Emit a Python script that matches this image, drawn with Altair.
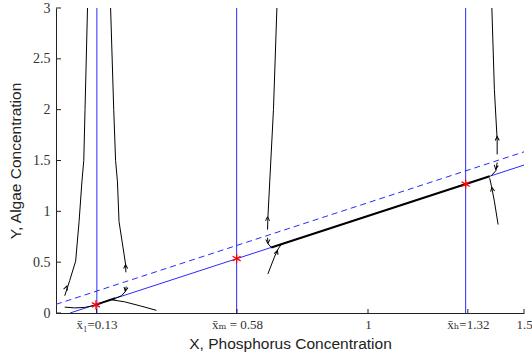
import altair as alt
import pandas as pd

# ---------------- data ----------------
x_ticks = [0.13, 0.58, 1.0, 1.32, 1.5]
x_tick_labels = ["x̄₁=0.13", "x̄ₘ = 0.58", "1", "x̄ₕ=1.32", "1.5"]
y_ticks = [0, 0.5, 1, 1.5, 2, 2.5, 3]

eq_lines_x = [0.131, 0.579, 1.313]          # vertical blue lines
star_x = [0.128, 0.579, 1.313]              # equilibria (red stars)
star_y = [0.08, 0.535, 1.267]

solid_x = [0.045, 1.5]                      # solid blue line
solid_y = [0.0, 1.455]
dashed_x = [0.0, 1.5]                       # dashed blue line
dashed_y = [0.085, 1.585]

# black trajectories
traj_a_x = [0.101, 0.093, 0.089, 0.083, 0.074, 0.063, 0.044, 0.028]
traj_a_y = [3.0, 2.0, 1.5, 1.29, 0.90, 0.51, 0.32, 0.17]
traj_b_x = [0.175, 0.185, 0.191, 0.197, 0.202, 0.215, 0.223, 0.224]
traj_b_y = [3.0, 2.0, 1.5, 1.29, 0.90, 0.64, 0.48, 0.40]
traj_b_low_x = [0.225, 0.222, 0.21, 0.19]
traj_b_low_y = [0.26, 0.21, 0.17, 0.145]
traj_c_x = [0.028, 0.06, 0.092, 0.124]
traj_c_y = [0.058, 0.05, 0.055, 0.075]
traj_d_x = [0.178, 0.22, 0.27, 0.322]
traj_d_y = [0.13, 0.11, 0.07, 0.026]
traj_m_up_x = [0.708, 0.697, 0.685, 0.679, 0.678]
traj_m_up_y = [3.0, 2.0, 1.29, 0.93, 0.82]
traj_m_dn_x = [0.678, 0.68, 0.69]
traj_m_dn_y = [0.74, 0.68, 0.645]
traj_m_low_x = [0.679, 0.70, 0.712, 0.722]
traj_m_low_y = [0.384, 0.55, 0.63, 0.675]
traj_h_up_x = [1.397, 1.405, 1.414, 1.414]
traj_h_up_y = [3.0, 2.2, 1.7, 1.56]
traj_h_dn_x = [1.414, 1.41, 1.395]
traj_h_dn_y = [1.48, 1.40, 1.35]
traj_h_low_x = [1.417, 1.405, 1.396, 1.39]
traj_h_low_y = [0.87, 1.1, 1.245, 1.325]

# thick black pieces (slow manifold)
thick_1_x = [0.124, 0.15, 0.19]
thick_1_y = [0.075, 0.105, 0.145]
thick_2_x = [0.69, 1.39]
thick_2_y = [0.645, 1.345]

# arrow heads: position and direction (degrees, 0 = up)
arrow_x = [0.033, 0.223, 0.223, 0.678, 0.679, 0.708, 1.414, 1.410, 1.398]
arrow_y = [0.25, 0.46, 0.23, 0.93, 0.70, 0.60, 1.72, 1.43, 1.22]
arrow_dir = [20, 358, 190, 0, 180, 20, 358, 190, 350]

# ---------------- build tables ----------------
def seg_df(pieces):
    rows = []
    for name, xs, ys in pieces:
        for i, (a, b) in enumerate(zip(xs, ys)):
            rows.append({"seg": name, "i": i, "x": a, "y": b})
    return pd.DataFrame(rows)

thin_df = seg_df([
    ("a", traj_a_x, traj_a_y), ("b", traj_b_x, traj_b_y),
    ("bl", traj_b_low_x, traj_b_low_y), ("c", traj_c_x, traj_c_y),
    ("d", traj_d_x, traj_d_y), ("mu", traj_m_up_x, traj_m_up_y),
    ("md", traj_m_dn_x, traj_m_dn_y), ("ml", traj_m_low_x, traj_m_low_y),
    ("hu", traj_h_up_x, traj_h_up_y), ("hd", traj_h_dn_x, traj_h_dn_y),
    ("hl", traj_h_low_x, traj_h_low_y),
])
thick_df = seg_df([("t1", thick_1_x, thick_1_y), ("t2", thick_2_x, thick_2_y)])
solid_df = pd.DataFrame({"x": solid_x, "y": solid_y})
dashed_df = pd.DataFrame({"x": dashed_x, "y": dashed_y})
vline_df = pd.DataFrame({"x": eq_lines_x})
star_df = pd.DataFrame({"x": star_x, "y": star_y})
arrow_df = pd.DataFrame({"x": arrow_x, "y": arrow_y, "dir": arrow_dir})
xt_df = pd.DataFrame({"v": x_ticks})
yt_df = pd.DataFrame({"v": y_ticks})

W, H = 468, 305
LABEL_FONT = "Liberation Serif, DejaVu Serif, serif"
TITLE_FONT = "Liberation Sans, Arial, sans-serif"

label_expr = " : ".join(
    f"abs(datum.value - {v}) < 1e-6 ? '{t}'" for v, t in zip(x_ticks, x_tick_labels)
) + " : datum.label"

xscale = alt.Scale(domain=[0, 1.5], nice=False, zero=False)
yscale = alt.Scale(domain=[0, 3], nice=False, zero=False)

X = alt.X("x:Q", scale=xscale,
          axis=alt.Axis(values=x_ticks, labelExpr=label_expr, ticks=False, tickSize=0,
                        labelPadding=5, labelFont=LABEL_FONT, labelFontSize=13,
                        labelColor="#333333", labelFlush=False, labelOverlap=False,
                        grid=False, domainColor="#222222", domainWidth=1,
                        title="X, Phosphorus Concentration", titleFont=TITLE_FONT,
                        titleFontSize=15.5, titleFontWeight="normal", titleColor="#222222",
                        titleX=W / 2, titleY=30, titleBaseline="middle"))
Y = alt.Y("y:Q", scale=yscale,
          axis=alt.Axis(values=y_ticks, format="~g", ticks=False, tickSize=0, labelPadding=6,
                        labelFont=LABEL_FONT, labelFontSize=14, labelColor="#333333",
                        labelFlush=False, labelOverlap=False, grid=False,
                        domainColor="#222222", domainWidth=1,
                        title="Y, Algae Concentration", titleFont=TITLE_FONT,
                        titleFontSize=15.5, titleFontWeight="normal", titleColor="#222222",
                        titleX=-41, titleY=H / 2, titleBaseline="middle",
                        titleAlign="center", titleAngle=-90))

BLUE = "#2a2aff"

vlines = alt.Chart(vline_df).mark_rule(color=BLUE, strokeWidth=1).encode(
    x=alt.X("x:Q", scale=xscale), y=alt.value(0), y2=alt.value(H))
solid = alt.Chart(solid_df).mark_line(color=BLUE, strokeWidth=1, clip=True).encode(x=X, y=Y)
dashed = alt.Chart(dashed_df).mark_line(color=BLUE, strokeWidth=1, strokeDash=[6, 4],
                                        clip=True).encode(x=alt.X("x:Q", scale=xscale),
                                                          y=alt.Y("y:Q", scale=yscale))
thin = alt.Chart(thin_df).mark_line(color="black", strokeWidth=1, clip=True).encode(
    x=alt.X("x:Q", scale=xscale), y=alt.Y("y:Q", scale=yscale),
    detail="seg:N", order="i:Q")
thick = alt.Chart(thick_df).mark_line(color="black", strokeWidth=2, clip=True).encode(
    x=alt.X("x:Q", scale=xscale), y=alt.Y("y:Q", scale=yscale),
    detail="seg:N", order="i:Q")
arrows = alt.Chart(arrow_df).mark_point(
    shape="M-0.6,0.7L0,-0.5L0.6,0.7", filled=False, color="black", strokeWidth=1,
    size=45, opacity=1).encode(
    x=alt.X("x:Q", scale=xscale), y=alt.Y("y:Q", scale=yscale),
    angle=alt.Angle("dir:Q", scale=None))
stars = alt.Chart(star_df).mark_point(
    shape="M0,-1L0,1M-0.87,-0.5L0.87,0.5M-0.87,0.5L0.87,-0.5", filled=False,
    color="#ff0000", strokeWidth=1.3, size=85, opacity=1).encode(
    x=alt.X("x:Q", scale=xscale), y=alt.Y("y:Q", scale=yscale))
xticks = alt.Chart(xt_df).mark_rule(color="#222222", strokeWidth=1).encode(
    x=alt.X("v:Q", scale=xscale), y=alt.value(H), y2=alt.value(H - 4))
yticks = alt.Chart(yt_df).mark_rule(color="#222222", strokeWidth=1).encode(
    y=alt.Y("v:Q", scale=yscale), x=alt.value(0), x2=alt.value(5))

chart = alt.layer(solid, vlines, dashed, thin, thick, arrows, stars, xticks, yticks).properties(
    width=W, height=H,
    autosize=alt.AutoSizeParams(type="none"),
    padding={"left": 56, "top": 8, "right": 8, "bottom": 45},
    background="white",
).configure_view(stroke=None)

chart.save("out.html", embed_options={"renderer": "svg", "actions": False})
